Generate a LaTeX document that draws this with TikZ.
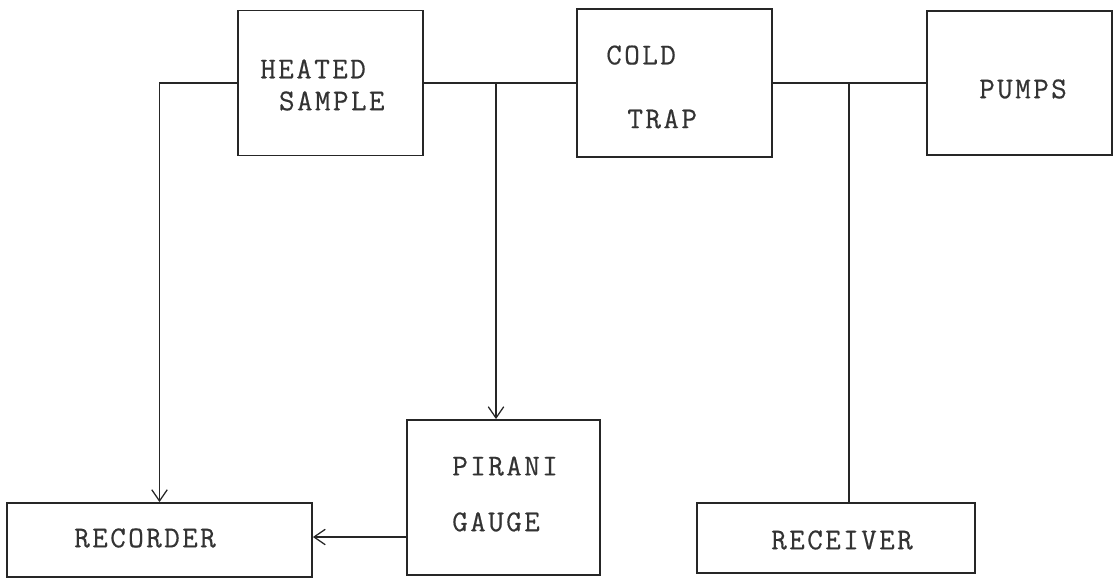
\documentclass[tikz,border=0pt]{standalone}
\usepackage{fontspec}
\newfontfamily\typefont[LetterSpace=8.0,FakeBold=0.5]{Latin Modern Mono}
\usepackage{tikz}
\usetikzlibrary{positioning, calc, arrows.meta}

\tikzset{
    unitbox/.style 2 args={draw=black!85, line width=1.3pt, inner sep=0pt,
        minimum width=#1*0.025cm, minimum height=#2*0.025cm},
    lbl/.style={inner sep=0pt, text=black!80, align=left,
        font=\typefont\fontsize{21.5}{26}\selectfont},
    pipe/.style={draw=black!85, line width=0.9pt},
    flow/.style={pipe, -{Straight Barb[length=8pt,width=11pt,line width=0.9pt]}}
}

\begin{document}
\begin{tikzpicture}[x=0.025cm, y=-0.025cm]

        \useasboundingbox (0,0) rectangle (1115,580);

        % ==========================================
        % Top row (vacuum line)
        % ==========================================
        \node[unitbox={185}{145}] (heated) at (330.5,83) {};
        \node[unitbox={195}{148}] (cold) at (674.5,83) {};
        \node[unitbox={185}{144}] (pumps) at (1019.5,83) {};

        \node[lbl, anchor=west] (heatedtxt) at (260,85) {HEATED\\[-3.3pt]\hspace*{0.62em}SAMPLE};
        \node[lbl, anchor=west] (coldtxt) at (606,87) {COLD\\[19.4pt]\hspace*{0.7em}TRAP};
        \node[lbl] (pumpstxt) at (1023,89) {PUMPS};

        % ==========================================
        % Bottom row
        % ==========================================
        \node[unitbox={305}{74}] (recorder) at (159.5,540) {};
        \node[unitbox={193}{155}] (pirani) at (503.5,497.5) {};
        \node[unitbox={278}{70}] (receiver) at (836,538) {};

        \node[lbl] (recordertxt) at (145,538) {RECORDER};
        \node[lbl, anchor=west] (piranitxt) at (452,494) {PIRANI\\[13.7pt]GAUGE};
        \node[lbl] (receivertxt) at (842,540) {RECEIVER};

        % Junctions on the line
        \coordinate (tee1) at (496,83);
        \coordinate (tee2) at (849,83);

        % Connections
        \draw[pipe] (heated.east) -- (cold.west);
        \draw[pipe] (cold.east) -- (pumps.west);
        \draw[flow] (heated.west) -| (recorder.north);
        \draw[flow] (tee1) -- (tee1 |- pirani.north);
        \draw[pipe] (tee2) -- (tee2 |- receiver.north);
        \draw[flow] (pirani.west |- 0,537) -- (recorder.east |- 0,537);

\end{tikzpicture}
\end{document}
